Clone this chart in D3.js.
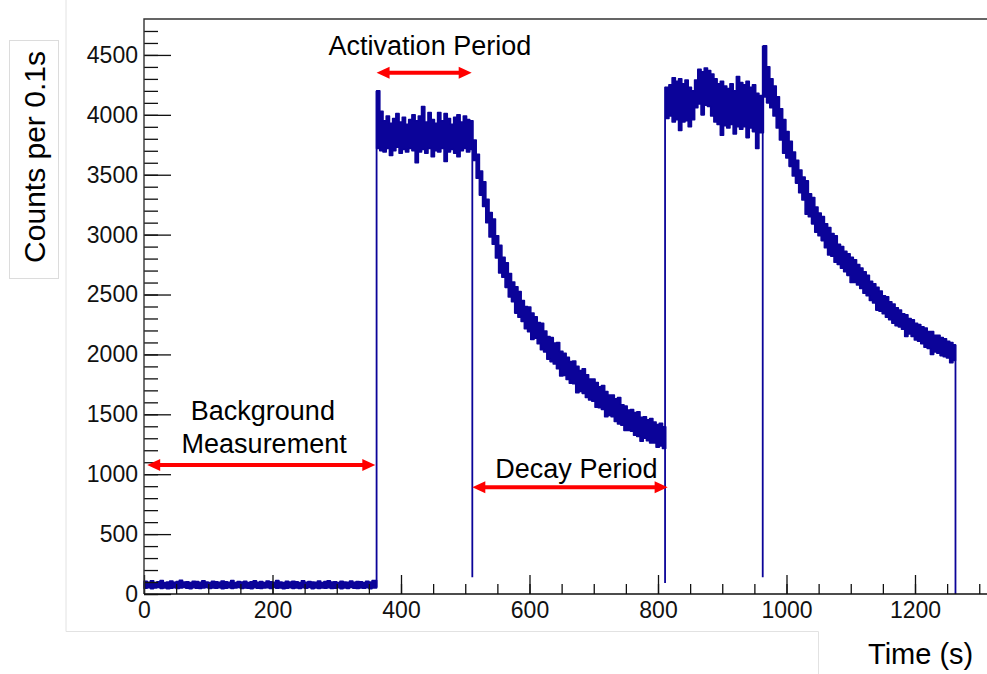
<!DOCTYPE html>
<html>
<head>
<meta charset="utf-8">
<script src="https://cdn.jsdelivr.net/npm/d3@7"></script>
<style>
  body { margin: 0; background: #fff; }
  svg { display: block; font-family: "Liberation Sans", Arial, Helvetica, sans-serif; }
</style>
</head>
<body>
<div id="chart"></div>
<script>
const binWidth = 5

const backgroundStart = 0
const backgroundHigh = [105, 98, 110, 96, 102, 112, 95, 100, 108, 97, 104, 115, 99, 101, 96, 107, 103, 98, 111, 100, 95, 106, 102, 97, 109, 101, 98, 113, 96, 104, 100, 107, 95, 102, 110, 98, 103, 96, 108, 101, 97, 112, 100, 95, 105, 99, 107, 102, 96, 110, 98, 104, 100, 97, 108, 95, 103, 111, 99, 101, 96, 106, 100, 98, 109, 97, 104, 102, 95, 107, 100, 112]
const backgroundLow = [48, 52, 45, 50, 55, 47, 51, 44, 49, 53, 46, 50, 54, 48, 45, 52, 49, 47, 51, 55, 46, 50, 48, 53, 45, 49, 52, 47, 50, 54, 46, 51, 48, 45, 53, 49, 47, 50, 52, 46, 55, 48, 51, 45, 49, 53, 47, 50, 46, 52, 48, 54, 45, 50, 47, 51, 49, 53, 46, 48, 52, 45, 50, 47, 54, 49, 46, 51, 48, 53, 45, 50]

const activationStart = 362
const activationHigh = [4200, 4030, 3950, 3990, 3930, 3970, 4010, 3940, 3980, 3920, 3960, 4000, 3950, 3990, 4070, 3940, 4020, 3960, 3930, 4020, 3950, 4010, 3970, 3920, 3980, 4000, 3940, 3990, 3960, 3950]
const activationLow = [3720, 3700, 3690, 3720, 3660, 3700, 3730, 3680, 3710, 3690, 3720, 3700, 3600, 3690, 3710, 3680, 3720, 3650, 3700, 3690, 3720, 3610, 3690, 3710, 3680, 3650, 3700, 3720, 3690, 3710]

const decay1Start = 512
const decay1High = [3790, 3670, 3530, 3440, 3295, 3185, 3130, 2990, 2910, 2810, 2765, 2675, 2605, 2565, 2525, 2450, 2400, 2395, 2345, 2315, 2265, 2260, 2195, 2150, 2140, 2095, 2100, 2025, 2010, 1975, 1940, 1945, 1900, 1865, 1880, 1830, 1795, 1795, 1765, 1730, 1740, 1690, 1660, 1660, 1630, 1640, 1580, 1570, 1535, 1540, 1515, 1520, 1475, 1480, 1455, 1465, 1435, 1415, 1425, 1395]
const decay1Low = [3620, 3470, 3330, 3235, 3100, 2980, 2920, 2805, 2680, 2645, 2560, 2480, 2440, 2345, 2310, 2275, 2215, 2190, 2125, 2135, 2090, 2040, 2020, 1960, 1940, 1920, 1880, 1820, 1825, 1790, 1760, 1755, 1680, 1690, 1675, 1640, 1620, 1610, 1560, 1555, 1540, 1480, 1490, 1480, 1440, 1420, 1410, 1365, 1365, 1360, 1325, 1315, 1275, 1300, 1280, 1260, 1260, 1225, 1235, 1215]

const plateau2Start = 812
const plateau2High = [4230, 4250, 4310, 4280, 4300, 4260, 4290, 4230, 4200, 4290, 4380, 4360, 4390, 4370, 4340, 4300, 4260, 4280, 4240, 4220, 4260, 4200, 4320, 4270, 4250, 4280, 4230, 4250, 4180, 4160]
const plateau2Low = [3970, 3990, 3940, 3960, 3870, 3940, 3950, 3900, 3960, 4060, 4090, 4000, 4080, 4070, 3990, 3940, 3920, 3830, 3910, 3890, 3920, 3840, 3900, 3880, 3900, 3810, 3890, 3860, 3720, 3850]

const decay2Start = 964
const decay2High = [4577, 4400, 4300, 4240, 4150, 4050, 3960, 3860, 3780, 3690, 3620, 3540, 3480, 3450, 3340, 3310, 3230, 3180, 3150, 3090, 3060, 3010, 2990, 2920, 2900, 2860, 2840, 2810, 2790, 2750, 2720, 2690, 2660, 2610, 2590, 2560, 2530, 2490, 2480, 2440, 2420, 2390, 2370, 2340, 2330, 2300, 2290, 2260, 2250, 2230, 2220, 2190, 2190, 2160, 2160, 2140, 2130, 2110, 2100, 2080]
const decay2Low = [4150, 4100, 4060, 3990, 3890, 3790, 3680, 3640, 3570, 3490, 3430, 3350, 3290, 3170, 3150, 3090, 3020, 2990, 2950, 2890, 2830, 2820, 2770, 2750, 2720, 2690, 2660, 2600, 2600, 2580, 2550, 2510, 2490, 2450, 2430, 2370, 2360, 2340, 2310, 2290, 2260, 2240, 2230, 2210, 2150, 2170, 2150, 2120, 2110, 2090, 2060, 2050, 2000, 2020, 2010, 1990, 1980, 1970, 1930, 1950]

const runEnd = 1263

// vertical edges where the beam was switched
const edgeTimes = [362, 511, 811, 963, 1263]
const edgeBottoms = [55, 140, 92, 140, 0]
const edgeTops = [4200, 3790, 4235, 4577, 2080]

const xTicks = [0, 200, 400, 600, 800, 1000, 1200]
const yTicks = [0, 500, 1000, 1500, 2000, 2500, 3000, 3500, 4000, 4500]

const labels = [
  { text: 'Activation Period', t: 445, v: 4500 },
  { text: 'Background', t: 185, v: 1452 },
  { text: 'Measurement', t: 187, v: 1175 },
  { text: 'Decay Period', t: 673, v: 968 },
]
const arrowSpans = [
  { from: 5, to: 360, v: 1077 },
  { from: 362, to: 510, v: 4352 },
  { from: 511, to: 815, v: 891 },
]

const width = 987
const height = 674
const margin = { top: 19, left: 144, bottom: 80 }
const lineColor = '#0b0399'

const svg = d3.select('#chart').append('svg')
  .attr('width', width)
  .attr('height', height)

const x = d3.scaleLinear().domain([0, 1340]).range([margin.left, margin.left + 1340 * 0.6425])
const y = d3.scaleLinear().domain([0, 4800]).range([height - margin.bottom, margin.top])

// faint outlines left from pasting the figure together
svg.append('path')
  .attr('d', 'M66,0V631.5H818.5V674')
  .attr('fill', 'none')
  .attr('stroke', '#e2e2e2')
svg.append('rect')
  .attr('x', 9.5).attr('y', 40.5)
  .attr('width', 49).attr('height', 238)
  .attr('fill', '#fff')
  .attr('stroke', '#dcdcdc')

svg.append('text')
  .attr('transform', 'translate(45,157) rotate(-90)')
  .attr('text-anchor', 'middle')
  .style('font-size', '30px')
  .text('Counts per 0.1s')

svg.append('text')
  .attr('x', 868)
  .attr('y', 664)
  .style('font-size', '29px')
  .text('Time (s)')

// histogram bands
const phases = [
  { start: backgroundStart, high: backgroundHigh, low: backgroundLow, end: activationStart },
  { start: activationStart, high: activationHigh, low: activationLow, end: decay1Start },
  { start: decay1Start, high: decay1High, low: decay1Low, end: plateau2Start },
  { start: plateau2Start, high: plateau2High, low: plateau2Low, end: decay2Start },
  { start: decay2Start, high: decay2High, low: decay2Low, end: runEnd },
]

const band = d3.area()
  .curve(d3.curveStepAfter)
  .x(d => x(d.t))
  .y0(d => y(d.lo))
  .y1(d => y(d.hi))

phases.forEach(phase => {
  const pts = phase.high.map((h, i) => ({ t: phase.start + i * binWidth, hi: h, lo: phase.low[i] }))
  const last = pts[pts.length - 1]
  pts.push({ t: phase.end, hi: last.hi, lo: last.lo })
  svg.append('path')
    .attr('d', band(pts))
    .attr('fill', lineColor)
    .attr('stroke', lineColor)
    .attr('stroke-width', 1.6)
    .attr('stroke-linejoin', 'round')
})

svg.selectAll('.edge')
  .data(edgeTimes)
  .enter()
  .append('line')
  .attr('class', 'edge')
  .attr('x1', d => x(d))
  .attr('x2', d => x(d))
  .attr('y1', (d, i) => y(edgeBottoms[i]))
  .attr('y2', (d, i) => y(edgeTops[i]))
  .attr('stroke', lineColor)
  .attr('stroke-width', 1.8)

// axes, ROOT style: ticks pointing into the frame
const yAxis = svg.append('g')
  .attr('transform', `translate(${margin.left},0)`)
  .call(d3.axisLeft(y).tickValues(d3.range(0, 4800, 100)).tickSize(-14).tickFormat(''))
yAxis.append('g')
  .call(d3.axisLeft(y).tickValues(yTicks).tickSize(-27).tickPadding(6).tickFormat(d3.format('d')))

const xAxis = svg.append('g')
  .attr('transform', `translate(0,${y(0)})`)
  .call(d3.axisBottom(x).tickValues(d3.range(0, 1340, 50)).tickSize(-10).tickFormat(''))
xAxis.append('g')
  .call(d3.axisBottom(x).tickValues(xTicks).tickSize(-19).tickPadding(8).tickFormat(d3.format('d')))

svg.selectAll('.domain').remove()
svg.selectAll('.tick line').attr('stroke', '#111').attr('stroke-width', 1.3)
svg.selectAll('.tick text')
  .attr('fill', '#111')
  .style('font-size', '23px')
  .style('font-family', '"Liberation Sans", Arial, Helvetica, sans-serif')

// frame
svg.append('path')
  .attr('d', `M${x(0)},${y(0)}V${y(4800)}H${width + 10}`)
  .attr('fill', 'none')
  .attr('stroke', '#333')
  .attr('stroke-width', 1.4)
svg.append('line')
  .attr('x1', x(0)).attr('x2', width + 10)
  .attr('y1', y(0)).attr('y2', y(0))
  .attr('stroke', '#111')
  .attr('stroke-width', 1.4)

// annotations
svg.selectAll('.note')
  .data(labels)
  .enter()
  .append('text')
  .attr('class', 'note')
  .attr('x', d => x(d.t))
  .attr('y', d => y(d.v))
  .attr('text-anchor', 'middle')
  .style('font-size', '27px')
  .text(d => d.text)

const headLen = 13
const headHalf = 6
arrowSpans.forEach(a => {
  const x0 = x(a.from)
  const x1 = x(a.to)
  const yy = y(a.v)
  svg.append('line')
    .attr('x1', x0 + headLen - 1).attr('x2', x1 - headLen + 1)
    .attr('y1', yy).attr('y2', yy)
    .attr('stroke', '#f00')
    .attr('stroke-width', 4)
  svg.append('path')
    .attr('d', `M${x0},${yy}L${x0 + headLen},${yy - headHalf}L${x0 + headLen},${yy + headHalf}Z`)
    .attr('fill', '#f00')
  svg.append('path')
    .attr('d', `M${x1},${yy}L${x1 - headLen},${yy - headHalf}L${x1 - headLen},${yy + headHalf}Z`)
    .attr('fill', '#f00')
})
</script>
</body>
</html>
